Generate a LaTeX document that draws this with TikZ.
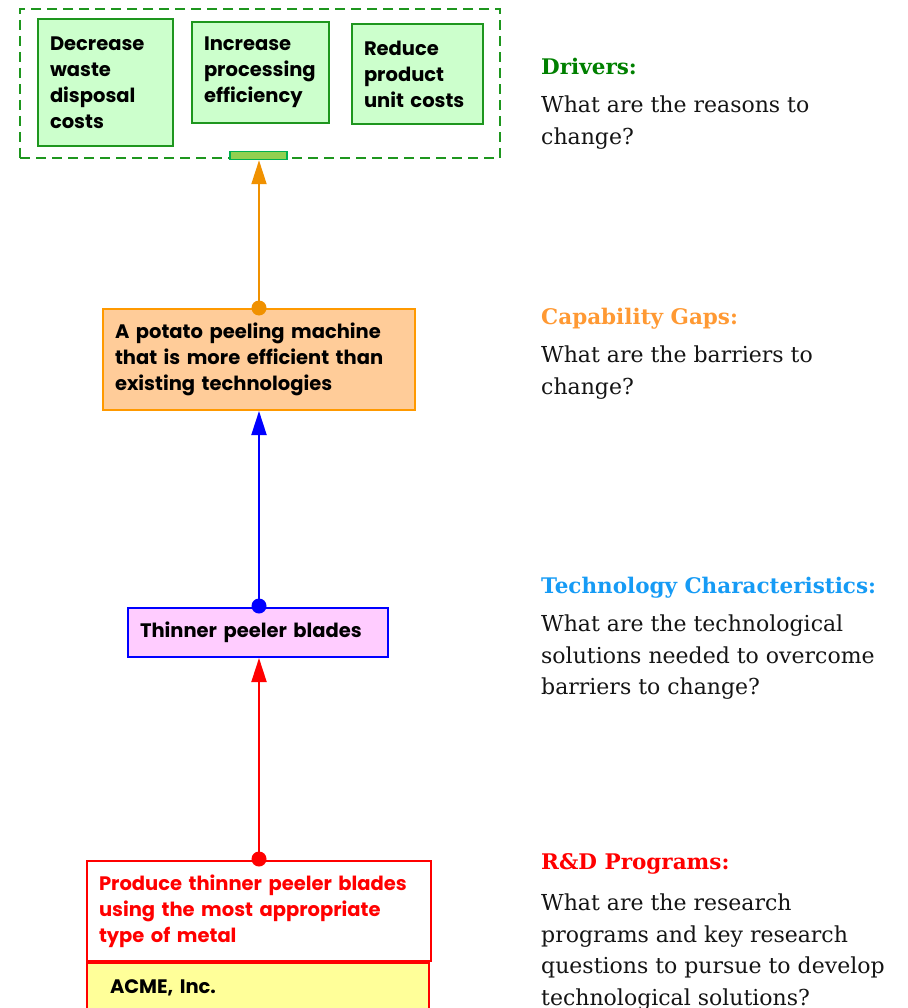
\documentclass[tikz,border=0pt]{standalone}
\usepackage{fontspec}
\setsansfont{Poppins}
\newfontfamily\notefont{DejaVu Serif}
\usetikzlibrary{arrows.meta}

\definecolor{drvgreen}{RGB}{30,150,30}
\definecolor{drvfill}{RGB}{204,255,204}
\definecolor{barfill}{RGB}{146,208,80}
\definecolor{bargreen}{RGB}{0,176,80}
\definecolor{gaporange}{RGB}{240,145,0}
\definecolor{gapfill}{RGB}{255,204,153}
\definecolor{gapborder}{RGB}{255,153,0}
\definecolor{headorange}{RGB}{255,153,51}
\definecolor{headblue}{RGB}{22,155,245}
\definecolor{headgreen}{RGB}{0,128,0}
\definecolor{pinkfill}{RGB}{255,204,255}
\definecolor{acmefill}{RGB}{255,255,153}

\tikzset{
  boxtext/.style={font=\sffamily\bfseries\fontsize{19.5}{26}\selectfont, align=left},
  box/.style={boxtext, draw, line width=2pt, anchor=north west, inner xsep=12pt, inner ysep=0pt},
  driver/.style={box, draw=drvgreen, fill=drvfill},
  link/.style={line width=2pt, -{Triangle[length=24pt,width=15pt]}},
  dot/.style={circle, inner sep=0pt, minimum size=15pt},
  heading/.style={font=\notefont\bfseries\fontsize{21.5}{31.5}\selectfont, anchor=base west, inner sep=0pt},
  note/.style={font=\notefont\fontsize{22}{31.5}\selectfont, anchor=north west, align=left, inner sep=0pt, text=black!92},
}

\begin{document}
\begin{tikzpicture}[x=1pt,y=-1pt]
\useasboundingbox (0,0) rectangle (907,1008);
\clip (0,0) rectangle (907,1008);

% Drivers group
\node[draw=drvgreen, dashed, dash pattern=on 10pt off 6pt, line width=2pt,
      minimum width=480pt, minimum height=149pt, anchor=north west, inner sep=0pt] (grp) at (19,8) {};
\node[driver, minimum width=135pt, minimum height=127pt, text width=111pt] (d1) at (37,18) {Decrease\\waste\\disposal\\costs};
\node[driver, minimum width=137pt, minimum height=101pt, text width=113pt] (d2) at (191,21) {Increase\\processing\\efficiency};
\node[driver, minimum width=131pt, minimum height=100pt, text width=107pt] (d3) at (351,23) {Reduce\\product\\unit costs};
\node[draw=bargreen, fill=barfill, line width=1.5pt, minimum width=57pt, minimum height=8pt, inner sep=0pt] (bar) at (258.5,155.5) {};

% Capability gap
\node[box, draw=gapborder, fill=gapfill, minimum width=312pt, minimum height=101pt, text width=288pt] (gap) at (102,308)
  {A potato peeling machine\\that is more efficient than\\existing technologies};

% Technology characteristic
\node[box, draw=blue, fill=pinkfill, minimum width=260pt, minimum height=49pt, text width=236pt] (tech) at (127,607)
  {Thinner peeler blades};

% R&D program
\node[box, draw=red, fill=white, text=red, minimum width=344pt, minimum height=100pt, text width=320pt] (rd) at (86,860)
  {Produce thinner peeler blades\\using the most appropriate\\type of metal};
\node[box, draw=red, fill=acmefill, minimum width=342pt, minimum height=50pt, text width=296pt, inner xsep=22pt] (acme) at (86,962)
  {ACME, Inc.};

% Links with start dots
\node[dot, fill=gaporange] (gdot) at (259,308) {};
\node[dot, fill=blue] (tdot) at (259,606) {};
\node[dot, fill=red] (rdot) at (259,859) {};
\draw[link, gaporange] (gdot.center) -- (bar.south -| gdot);
\draw[link, blue] (tdot.center) -- (gap.south -| tdot);
\draw[link, red] (rdot.center) -- (tech.south -| rdot);

% Explanatory column
\node[heading, text=headgreen] (h1) at (541,75) {Drivers:};
\node[note] (n1) at (541,96) {What are the reasons to\\change?};
\node[heading, text=headorange] (h2) at (541,324) {Capability Gaps:};
\node[note] (n2) at (541,346) {What are the barriers to\\change?};
\node[heading, text=headblue] (h3) at (541,593) {Technology Characteristics:};
\node[note] (n3) at (541,615) {What are the technological\\solutions needed to overcome\\barriers to change?};
\node[heading, text=red] (h4) at (541,869) {R\&D Programs:};
\node[note] (n4) at (541,894) {What are the research\\programs and key research\\questions to pursue to develop\\technological solutions?};
\end{tikzpicture}
\end{document}
